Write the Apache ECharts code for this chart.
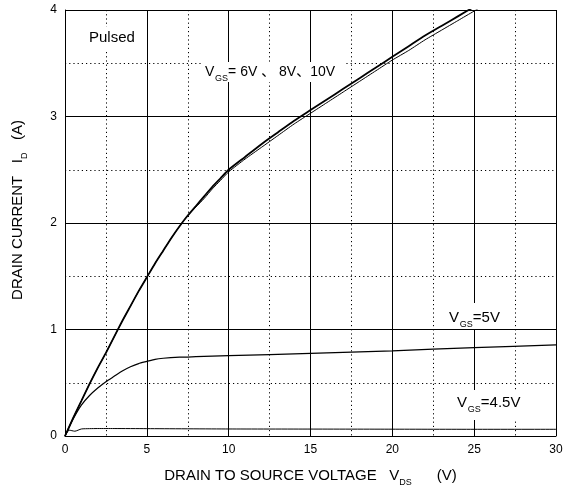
<!DOCTYPE html>
<html>
<head>
<meta charset="utf-8">
<script src="https://cdn.jsdelivr.net/npm/echarts@6/dist/echarts.min.js"></script>
<style>
html, body { margin: 0; padding: 0; background: #fff; }
#chart { width: 563px; height: 491px; }
</style>
</head>
<body>
<div id="chart"></div>
<script>
// VGS = 6V / 8V / 10V (two nearly overlapping traces)
const vdsMain = [0, 0.5, 1, 1.5, 2, 2.5, 3, 3.5, 4, 4.5, 5, 5.5, 6, 6.5, 7, 7.5, 8, 8.5, 9, 9.5, 10, 11, 12, 13, 14, 15, 16, 17, 18, 19, 20, 21, 22, 23, 24, 25, 26]
const idUpper = [0, 0.17, 0.33, 0.49, 0.64, 0.78, 0.93, 1.08, 1.22, 1.36, 1.49, 1.62, 1.74, 1.86, 1.97, 2.07, 2.16, 2.25, 2.34, 2.42, 2.50, 2.62, 2.74, 2.85, 2.96, 3.06, 3.16, 3.26, 3.36, 3.46, 3.56, 3.66, 3.76, 3.85, 3.94, 4.03, 4.12]
const idLower = [0, 0.17, 0.33, 0.49, 0.64, 0.78, 0.93, 1.08, 1.22, 1.36, 1.49, 1.62, 1.74, 1.86, 1.97, 2.07, 2.15, 2.23, 2.32, 2.40, 2.48, 2.60, 2.71, 2.82, 2.93, 3.03, 3.13, 3.23, 3.33, 3.43, 3.53, 3.62, 3.72, 3.81, 3.90, 3.99, 4.08]
// VGS = 5V
const vds5 = [0, 0.5, 1, 1.5, 2, 2.5, 3, 3.5, 4, 4.5, 5, 5.5, 6, 7, 8, 10, 15, 20, 25, 30]
const id5 = [0, 0.16, 0.29, 0.38, 0.45, 0.51, 0.56, 0.61, 0.65, 0.68, 0.70, 0.72, 0.73, 0.74, 0.745, 0.755, 0.775, 0.80, 0.83, 0.855]
// VGS = 4.5V
const vds45 = [0, 0.25, 0.6, 1, 1.5, 2, 3, 5, 10, 15, 20, 25, 30]
const id45 = [0, 0.055, 0.045, 0.066, 0.069, 0.07, 0.07, 0.069, 0.066, 0.065, 0.064, 0.063, 0.063]

const xTicks = { min: 0, max: 30, interval: 5 }
const yTicks = { min: 0, max: 4, interval: 1 }

const FONT = "'Liberation Sans', Arial, 'Noto Sans CJK SC', sans-serif"

const pairs = (xs, ys) => xs.map((x, i) => [x, ys[i]])

const chart = echarts.init(document.getElementById('chart'))

const lineSeries = (data, width) => ({
    type: 'line',
    data: data,
    symbol: 'none',
    smooth: 0.2,
    clip: true,
    silent: true,
    lineStyle: { color: '#000', width: width }
})

const axisCommon = {
    type: 'value',
    axisLine: { show: true, lineStyle: { color: '#000', width: 1 } },
    axisTick: { show: false },
    axisLabel: { color: '#000', fontSize: 12, fontFamily: FONT, margin: 8 },
    splitLine: { show: true, lineStyle: { color: '#000', width: 1 } },
    minorTick: { show: false, splitNumber: 2 },
    minorSplitLine: { show: true, lineStyle: { color: '#000', width: 1, type: [1.2, 3] } },
    nameLocation: 'middle'
}

const nameRich = {
    t: { fontSize: 15, fontFamily: FONT, color: '#000' },
    s: { fontSize: 9, fontFamily: FONT, color: '#000', padding: [13, 0, 0, 0] }
}

// annotation helpers
const label = (x, y, main, sub, rest, size) => [
    { type: 'text', x: x, y: y, z: 100, style: { text: main, font: size + 'px ' + FONT, fill: '#000', verticalAlign: 'middle' } },
    { type: 'text', x: x + size * 0.72, y: y + 7, z: 100, style: { text: sub, font: '9px ' + FONT, fill: '#000', verticalAlign: 'middle' } },
    { type: 'text', x: x + size * 0.72 + 13, y: y, z: 100, style: { text: rest, font: size + 'px ' + FONT, fill: '#000', verticalAlign: 'middle' } }
]
const bg = (x, y, w, h) => ({ type: 'rect', z: 90, shape: { x: x, y: y, width: w, height: h }, style: { fill: '#fff' } })

chart.setOption({
    animation: false,
    backgroundColor: '#fff',
    grid: { left: 65, right: 7, top: 10, bottom: 55, outerBoundsMode: 'none' },
    xAxis: Object.assign({}, axisCommon, xTicks, {
        name: '{t|DRAIN TO SOURCE VOLTAGE   V}{s|DS}{t|      (V)}',
        nameGap: 29,
        nameTextStyle: { rich: nameRich }
    }),
    yAxis: Object.assign({}, axisCommon, yTicks, {
        name: '{t|DRAIN CURRENT   I}{s|D}{t|   (A)}',
        nameGap: 36,
        nameTextStyle: { rich: nameRich, padding: [0, 0, 0, 26] }
    }),
    series: [
        lineSeries(pairs(vdsMain, idUpper), 1.8),
        lineSeries(pairs(vdsMain, idLower), 1),
        lineSeries(pairs(vds5, id5), 1.2),
        lineSeries(pairs(vds45, id45), 1)
    ],
    graphic: [
        bg(85, 27, 55, 22),
        { type: 'text', x: 89, y: 38, z: 100, style: { text: 'Pulsed', font: '15px ' + FONT, fill: '#000', verticalAlign: 'middle' } },
        bg(202, 62, 142, 20),
        ...label(205, 72, 'V', 'GS', '= 6V 、 8V、10V', 14),
        bg(443, 303, 60, 26),
        ...label(449, 318, 'V', 'GS', '=5V', 15),
        bg(452, 390, 70, 30),
        ...label(457, 403, 'V', 'GS', '=4.5V', 15)
    ]
})
</script>
</body>
</html>
